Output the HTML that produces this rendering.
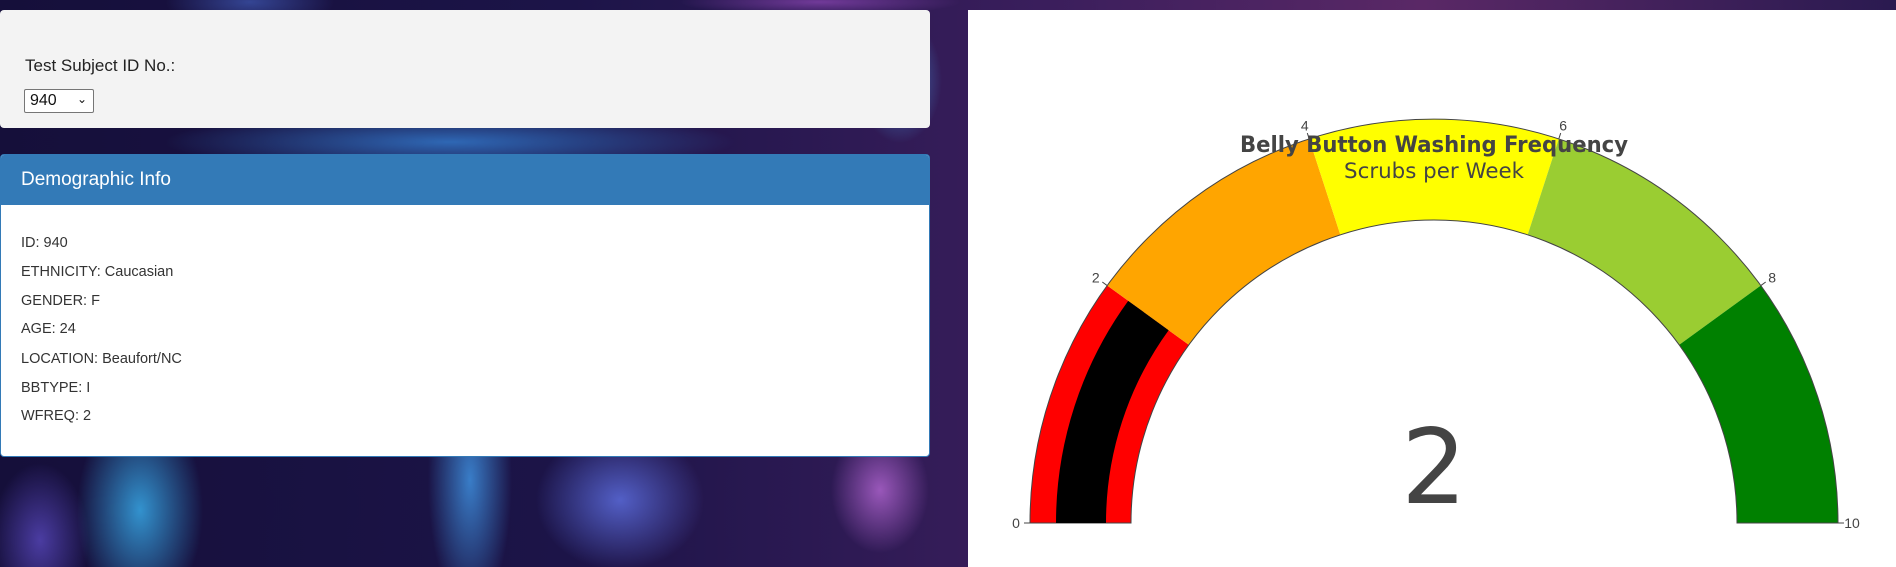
<!DOCTYPE html>
<html><head><meta charset="utf-8">
<style>
html,body{margin:0;padding:0;width:1896px;height:567px;overflow:hidden;font-family:"Liberation Sans",Arial,sans-serif;}
body{position:relative;background:
radial-gradient(ellipse 90px 150px at 140px 510px,rgba(60,190,255,0.75),transparent 70%),
radial-gradient(ellipse 120px 100px at 620px 500px,rgba(100,120,240,0.75),transparent 70%),
radial-gradient(ellipse 60px 190px at 470px 480px,rgba(70,170,255,0.7),transparent 70%),
radial-gradient(ellipse 70px 90px at 880px 490px,rgba(210,120,240,0.65),transparent 70%),
radial-gradient(ellipse 70px 110px at 40px 540px,rgba(110,90,230,0.6),transparent 70%),
radial-gradient(ellipse 380px 40px at 450px 142px,rgba(60,160,255,0.6),transparent 75%),
radial-gradient(ellipse 60px 90px at 900px 80px,rgba(80,180,255,0.6),transparent 70%),
radial-gradient(ellipse 120px 40px at 250px 2px,rgba(80,120,230,0.5),transparent 70%),
radial-gradient(ellipse 200px 20px at 820px 2px,rgba(160,80,200,0.6),transparent 70%),
linear-gradient(90deg,#150f3a 0%,#1c1448 30%,#3a1e5c 55%,#5a2866 75%,#2a1a50 100%);}
.panel1{position:absolute;left:0;top:10px;width:930px;height:118px;background:#f3f3f3;border-radius:4px;}
.lbl{position:absolute;left:25px;top:46px;font-size:17px;color:#222;}
.sel{position:absolute;left:24px;top:79px;width:70px;height:24px;border:1px solid #767676;border-radius:2px;background:#fff;font-size:16px;color:#111;box-sizing:border-box;}
.sel span{position:absolute;left:5px;top:2px;}
.sel i{position:absolute;right:6px;top:2px;font-style:normal;font-size:12px;}
.panel2{position:absolute;left:0;top:154px;width:930px;height:303px;background:#fff;border:1px solid #337ab7;border-radius:4px;box-sizing:border-box;overflow:hidden;}
.hdr{height:50px;background:#337ab7;color:#fff;font-size:19px;line-height:50px;padding-left:20px;}
.row{position:absolute;left:20px;font-size:14.5px;color:#333;}
.gauge{position:absolute;left:968px;top:10px;width:928px;height:557px;background:#fff;}
</style></head><body>
<div class="panel1">
  <div class="lbl">Test Subject ID No.:</div>
  <div class="sel"><span>940</span><i>&#8964;</i></div>
</div>
<div class="panel2">
  <div class="hdr">Demographic Info</div>
  <div class="row" style="top:80px">ID: 940</div>
  <div class="row" style="top:109px">ETHNICITY: Caucasian</div>
  <div class="row" style="top:138px">GENDER: F</div>
  <div class="row" style="top:166px">AGE: 24</div>
  <div class="row" style="top:196px">LOCATION: Beaufort/NC</div>
  <div class="row" style="top:225px">BBTYPE: I</div>
  <div class="row" style="top:253px">WFREQ: 2</div>
</div>
<div class="gauge">
<svg id="g" width="928" height="557" xmlns="http://www.w3.org/2000/svg"></svg>
</div>
<script>
const stepStarts=[0,2,4,6,8];
const stepEnds=[2,4,6,8,10];
const stepColors=["red","orange","yellow","yellowgreen","green"];
const tickVals=[0,2,4,6,8,10];
const gaugeValue=2;
const rangeMax=10;
const NS="http://www.w3.org/2000/svg";
const svg=document.getElementById('g');
const cx=1434-968, cy=523-10, R=404, r=303, bR=378, br=328;
function ang(v){return Math.PI*(1-v/rangeMax);}
function pt(rad,v){return [cx+rad*Math.cos(ang(v)),cy-rad*Math.sin(ang(v))];}
function arc(v0,v1,ro,ri){
  const a=pt(ro,v0),b=pt(ro,v1),c=pt(ri,v1),d=pt(ri,v0);
  return `M${a[0]},${a[1]} A${ro},${ro} 0 0 1 ${b[0]},${b[1]} L${c[0]},${c[1]} A${ri},${ri} 0 0 0 ${d[0]},${d[1]} Z`;
}
function mk(tag,attrs){const e=document.createElementNS(NS,tag);for(const k in attrs)e.setAttribute(k,attrs[k]);svg.appendChild(e);return e;}
for(let i=0;i<stepStarts.length;i++){
  const p=mk('path',{d:arc(stepStarts[i],stepEnds[i],R,r),fill:stepColors[i]});
  
  
}
const outline=mk('path',{d:arc(0,rangeMax,R,r),fill:'none',stroke:'#444','stroke-width':1});


const bar=mk('path',{d:arc(0,gaugeValue,bR,br),fill:'#000'});


tickVals.forEach(v=>{
  const a=pt(R,v),b=pt(R+6,v),t=pt(R+14,v);
  const l=mk('line',{x1:a[0],y1:a[1],x2:b[0],y2:b[1],stroke:'#444','stroke-width':1});
  
  
  const tx=mk('text',{x:t[0],y:t[1]+5,'text-anchor':'middle','font-size':14,fill:'#444','font-family':'"Liberation Sans",sans-serif'});
  tx.textContent=v;
  
  
});
const t1=mk('text',{x:cx,y:142,'text-anchor':'middle','font-size':22,'font-weight':'bold',fill:'#444',textLength:388,lengthAdjust:'spacingAndGlyphs','font-family':'"DejaVu Sans",sans-serif'});
t1.textContent='Belly Button Washing Frequency';


const t2=mk('text',{x:cx,y:168,'text-anchor':'middle','font-size':21,fill:'#444',textLength:180,lengthAdjust:'spacingAndGlyphs','font-family':'"DejaVu Sans",sans-serif'});
t2.textContent='Scrubs per Week';


const num=mk('text',{x:cx,y:493,'text-anchor':'middle','font-size':103,fill:'#444','font-family':'"DejaVu Sans",sans-serif'});
num.textContent=gaugeValue;


</script>
</body></html>
